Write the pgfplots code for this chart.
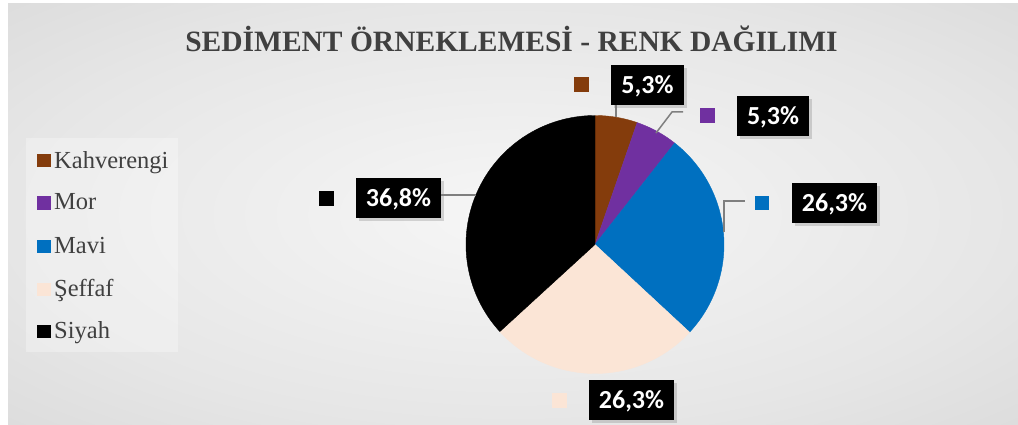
\documentclass[border=0pt]{standalone}
\usepackage{pgfplots}
\pgfplotsset{compat=1.18}
\usepackage{pgfplotstable}
\usepackage{fontspec}
\setmainfont{Liberation Serif}
\newfontfamily\calfont{Carlito}
\usetikzlibrary{shadows}
\definecolor{kahve}{HTML}{843C0C}
\definecolor{mor}{HTML}{7030A0}
\definecolor{mavi}{HTML}{0070C0}
\definecolor{seffaf}{HTML}{FBE5D6}
\definecolor{siyah}{HTML}{000000}
\definecolor{txt}{HTML}{404040}
\definecolor{lead}{HTML}{7F7F7F}
\definecolor{bgA}{HTML}{F6F6F6}
\definecolor{bgB}{HTML}{E6E6E6}
\definecolor{bgC}{HTML}{D0D0D0}
\definecolor{bgD}{HTML}{C2C2C2}
\pgfdeclareradialshading{bgshade}{\pgfpoint{0bp}{0bp}}{color(0bp)=(bgA); color(25bp)=(bgB); color(50bp)=(bgC); color(72bp)=(bgD)}

\pgfplotstableread{
name value
Kahverengi 5.3
Mor 5.3
Mavi 26.3
Seffaf 26.3
Siyah 36.8
}\piedata

\begin{document}
\begin{tikzpicture}
\pgfplotstablegetelem{0}{value}\of\piedata\let\vA\pgfplotsretval
\pgfplotstablegetelem{1}{value}\of\piedata\let\vB\pgfplotsretval
\pgfplotstablegetelem{2}{value}\of\piedata\let\vC\pgfplotsretval
\pgfplotstablegetelem{3}{value}\of\piedata\let\vD\pgfplotsretval
\pgfplotstablegetelem{4}{value}\of\piedata\let\vE\pgfplotsretval
\pgfmathsetmacro\aA{90}
\pgfmathsetmacro\aB{\aA-3.6*\vA}
\pgfmathsetmacro\aC{\aB-3.6*\vB}
\pgfmathsetmacro\aD{\aC-3.6*\vC}
\pgfmathsetmacro\aE{\aD-3.6*\vD}
\pgfmathsetmacro\aF{\aE-3.6*\vE}
\begin{axis}[width=1018pt,height=425pt,scale only axis,
  xmin=0,xmax=1018,ymin=0,ymax=425,y dir=reverse,
  hide axis,clip=false]
% background
\fill[white] (0,0) rectangle (1018,425);
\shade[shading=bgshade] (8,4) rectangle (1018,425);
% title
\node[anchor=base,text=txt,font=\fontsize{29.5}{33}\selectfont\bfseries] at (511.5,52) {SEDİMENT ÖRNEKLEMESİ - RENK DAĞILIMI};
% pie
\addplot[draw=kahve,fill=kahve,domain=\aB:\aA,samples=30,variable=\t] ({595+129*cos(\t)},{244.5-129*sin(\t)}) -- (axis cs:595,244.5) -- cycle;
\addplot[draw=mor,fill=mor,domain=\aC:\aB,samples=30,variable=\t] ({595+129*cos(\t)},{244.5-129*sin(\t)}) -- (axis cs:595,244.5) -- cycle;
\addplot[draw=mavi,fill=mavi,domain=\aD:\aC,samples=80,variable=\t] ({595+129*cos(\t)},{244.5-129*sin(\t)}) -- (axis cs:595,244.5) -- cycle;
\addplot[draw=seffaf,fill=seffaf,domain=\aE:\aD,samples=80,variable=\t] ({595+129*cos(\t)},{244.5-129*sin(\t)}) -- (axis cs:595,244.5) -- cycle;
\addplot[draw=siyah,fill=siyah,domain=\aF:\aE,samples=100,variable=\t] ({595+129*cos(\t)},{244.5-129*sin(\t)}) -- (axis cs:595,244.5) -- cycle;
% leader lines
\draw[lead,line width=1.5pt] (616,105) -- (616,117);
\draw[lead,line width=1.5pt] (683,112) -- (672,112) -- (656,133);
\draw[lead,line width=1.5pt] (724,232) -- (724,201) -- (745,201);
\draw[lead,line width=1.5pt] (439,195) -- (476,195);
% label boxes
\tikzset{lbl/.style={fill=black,text=white,font=\calfont\bfseries\fontsize{26}{30}\selectfont,
  inner xsep=10pt,inner ysep=11.5pt,text height=17pt,text depth=0pt,
  drop shadow={shadow xshift=3pt,shadow yshift=-3pt,opacity=0.3}}}
\node[lbl] at (647.5,85) {5,3\%};
\node[lbl] at (773,116.5) {5,3\%};
\node[lbl] at (834.5,203) {26,3\%};
\node[lbl] at (631.5,400) {26,3\%};
\node[lbl] at (398.5,198) {36,8\%};
\fill[kahve] (574,77) rectangle (589,92);
\fill[mor] (700,108) rectangle (715,123);
\fill[mavi] (755,196) rectangle (769,210);
\fill[seffaf] (552,393) rectangle (567,408);
\fill[siyah] (319,191) rectangle (334,206);
% legend
\fill[white,fill opacity=0.3] (26,138) rectangle (178,352);
\tikzset{leg/.style={anchor=base west,text=txt,font=\fontsize{24.5}{28}\selectfont,inner sep=0pt}}
\fill[kahve] (37,154.5) rectangle (50.5,167.5);
\node[leg] at (54,168) {Kahverengi};
\fill[mor] (37,196.5) rectangle (50.5,209.5);
\node[leg] at (54,210) {Mor};
\fill[mavi] (37,239.5) rectangle (50.5,252.5);
\node[leg] at (54,253) {Mavi};
\fill[seffaf] (37,282.5) rectangle (50.5,295.5);
\node[leg] at (54,296) {Şeffaf};
\fill[siyah] (37,324.5) rectangle (50.5,337.5);
\node[leg] at (54,338) {Siyah};
\end{axis}
\end{tikzpicture}
\end{document}
